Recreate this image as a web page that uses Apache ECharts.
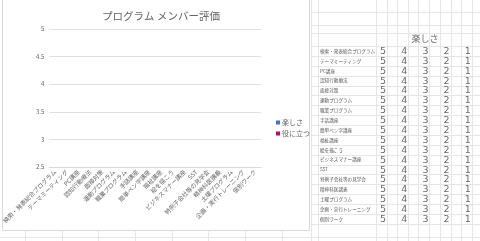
<!DOCTYPE html>
<html><head><meta charset="utf-8">
<script src="https://cdn.jsdelivr.net/npm/echarts@6/dist/echarts.min.js"></script>
<style>html,body{margin:0;padding:0;background:#fff}#c{width:480px;height:241px}</style>
</head><body><div id="c"></div>
<script>
const chartTitle = 'プログラム メンバー評価';
const categories = ['検索・発表総合プログラム','テーマミーティング','PC講座','認知行動療法','面接対策','運動プログラム','職業プログラム','手話講座','簡単ペン字講座','福祉講座','絵を描こう','ビジネスマナー講座','SST','特例子会社等の見学会','精神科医講義','土曜プログラム','企画・実行トレーニング','個別ワーク'];
const seriesNames = ['楽しさ','役に立つ'];
const funValues = [null,null,null,null,null,null,null,null,null,null,null,null,null,null,null,null,null,null];
const usefulValues = [null,null,null,null,null,null,null,null,null,null,null,null,null,null,null,null,null,null];
const yTicks = [2.5,3,3.5,4,4.5,5];
const tableHeader = '楽しさ';
const scaleLabels = [5,4,3,2,1];

const FONT = '"Noto Sans CJK JP","Noto Sans",sans-serif';
const LINE = '#e6e6e6';
const g = [];
const colsRight = [311,318,376,387,397,408,418,429,440,451,461,472];
const colsBottom = [25,62,98,135,172,208,245,282];
const rowsTop = [12,25,33,46];
for (const x of colsRight) g.push({type:'line',z:-5,shape:{x1:x+0.5,y1:0,x2:x+0.5,y2:241},style:{stroke:LINE,lineWidth:1}});
for (const x of colsBottom) g.push({type:'line',z:-5,shape:{x1:x+0.5,y1:230,x2:x+0.5,y2:241},style:{stroke:LINE,lineWidth:1}});
const rowLines = rowsTop.slice();
for (let i = 1; i <= categories.length; i++) rowLines.push(Math.round(46 + 9.88 * i));
rowLines.push(237);
for (const y of rowLines) g.push({type:'line',z:-5,shape:{x1:311,y1:y+0.5,x2:480,y2:y+0.5},style:{stroke:LINE,lineWidth:1}});
g.push({type:'line',z:-5,shape:{x1:0,y1:237.5,x2:311,y2:237.5},style:{stroke:LINE,lineWidth:1}});
g.push({type:'rect',z:-4,shape:{x:2.5,y:-1,width:307,height:231.5},style:{fill:'#fff',stroke:'#d9d9d9',lineWidth:1}});
g.push({type:'text',z:5,style:{text:tableHeader,x:425,y:39,fill:'#666',font:'9px '+FONT,textAlign:'center',textVerticalAlign:'middle'}});
categories.forEach((c,i)=>{
  const y = 51 + 9.88*i;
  g.push({type:'text',z:5,style:{text:c,x:320,y:y,fill:'#555',font:'4.6px '+FONT,textVerticalAlign:'middle'}});
  scaleLabels.forEach((v,j)=>{
    g.push({type:'text',z:5,style:{text:String(v),x:383+21.2*j,y:y+0.5,fill:'#6a6a6a',font:'9.5px "DejaVu Sans",sans-serif',textAlign:'center',textVerticalAlign:'middle'}});
  });
});

const chart = echarts.init(document.getElementById('c'), null, {renderer:'canvas'});
chart.setOption({
  backgroundColor:'#fff',
  animation:false,
  title:{text:chartTitle,left:156,top:6,textAlign:'center',textStyle:{fontFamily:FONT,fontSize:10.5,fontWeight:'normal',color:'#666'}},
  legend:{orient:'vertical',left:271,top:114,itemWidth:4,itemHeight:4,itemGap:4,icon:'rect',
    textStyle:{fontFamily:FONT,fontSize:7,color:'#666',padding:[0,0,0,-3]},data:seriesNames},
  grid:{left:49,right:219,top:29,bottom:74,containLabel:false},
  xAxis:{type:'category',data:categories,
    axisLine:{lineStyle:{color:'#d9d9d9'}},axisTick:{show:false},
    axisLabel:{rotate:45,interval:0,fontSize:6,fontFamily:FONT,color:'#666',margin:4}},
  yAxis:{type:'value',min:yTicks[0],max:yTicks[yTicks.length-1],interval:0.5,
    axisLine:{show:false},axisTick:{show:false},
    splitLine:{lineStyle:{color:'#e0e0e0'}},
    axisLabel:{fontSize:6,fontFamily:FONT,color:'#666',margin:5}},
  color:['#4472C4','#C8006E'],
  series:[
    {name:seriesNames[0],type:'bar',data:funValues},
    {name:seriesNames[1],type:'bar',data:usefulValues}
  ],
  graphic:{elements:g}
});
</script></body></html>
